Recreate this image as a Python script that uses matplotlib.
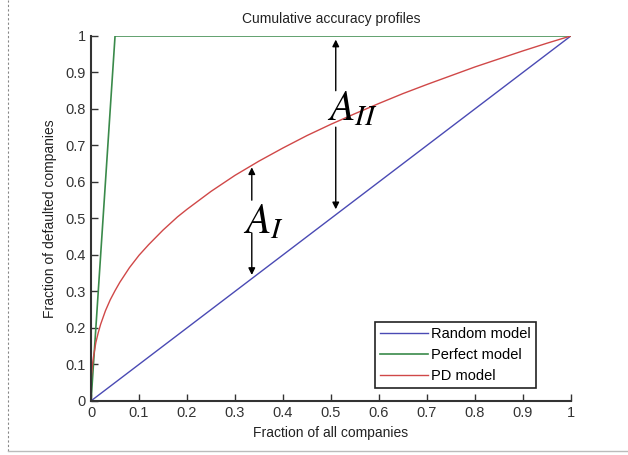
import numpy as np
import matplotlib
matplotlib.use("Agg")
import matplotlib.pyplot as plt
from matplotlib.lines import Line2D

plt.rcParams['font.family'] = ['Liberation Sans', 'DejaVu Sans']
plt.rcParams['mathtext.fontset'] = 'stix'

# Data
random_x = [0, 1]
random_y = [0, 1]

perfect_x = [0, 0.05, 1]
perfect_y = [0, 1, 1]

pd_x = [0, 0.001, 0.003, 0.005, 0.01, 0.015, 0.02, 0.03, 0.04, 0.05, 0.06,
        0.08, 0.1, 0.12, 0.15, 0.18, 0.2, 0.25, 0.3, 0.35, 0.4, 0.45, 0.5,
        0.55, 0.6, 0.65, 0.7, 0.75, 0.8, 0.85, 0.9, 0.95, 1.0]
pd_y = [0.05, 0.07, 0.10, 0.12, 0.16, 0.187, 0.21, 0.247, 0.277, 0.302, 0.325,
        0.365, 0.399, 0.428, 0.468, 0.504, 0.525, 0.574, 0.618, 0.657, 0.693,
        0.727, 0.758, 0.787, 0.815, 0.842, 0.867, 0.891, 0.915, 0.937, 0.959,
        0.98, 1.0]

ticks = [0, 0.1, 0.2, 0.3, 0.4, 0.5, 0.6, 0.7, 0.8, 0.9, 1]
tick_labels = ['0', '0.1', '0.2', '0.3', '0.4', '0.5', '0.6', '0.7', '0.8', '0.9', '1']

# Area annotations: (x, label y, up arrow from/to, down arrow from/to)
a1 = dict(x=0.335, label_y=0.49, up=(0.55, 0.64), down=(0.46, 0.345))
a2 = dict(x=0.51, label_y=0.80, up=(0.85, 0.99), down=(0.75, 0.525))

fig = plt.figure(figsize=(6.28, 4.55), dpi=100)
ax = fig.add_axes([0.145, 0.119, 0.764, 0.802])

ax.plot(random_x, random_y, color='#4a4ab4', lw=1, label='Random model')
ax.plot(perfect_x, perfect_y, color='#3a8a4a', lw=1.2, label='Perfect model')
ax.plot(pd_x, pd_y, color='#d04848', lw=1, label='PD model')

for a in (a1, a2):
    ax.annotate('', xy=(a['x'], a['up'][1]), xytext=(a['x'], a['up'][0]),
                arrowprops=dict(arrowstyle='-|>', color='black', lw=1,
                                mutation_scale=10, shrinkA=0, shrinkB=0))
    ax.annotate('', xy=(a['x'], a['down'][1]), xytext=(a['x'], a['down'][0]),
                arrowprops=dict(arrowstyle='-|>', color='black', lw=1,
                                mutation_scale=10, shrinkA=0, shrinkB=0))

ax.text(a1['x'] + 0.025, a1['label_y'], r'$A_I$', fontsize=30,
        ha='center', va='center')
ax.text(a2['x'] + 0.035, a2['label_y'], r'$A_{II}$', fontsize=30,
        ha='center', va='center')

ax.set_xlim(0, 1)
ax.set_ylim(0, 1)
ax.set_xticks(ticks)
ax.set_xticklabels(tick_labels)
ax.set_yticks(ticks)
ax.set_yticklabels(tick_labels)
ax.tick_params(direction='in', length=5, width=1, labelsize=10.5,
               colors='#333333', pad=4)
ax.spines['top'].set_visible(False)
ax.spines['right'].set_visible(False)
for s in ('left', 'bottom'):
    ax.spines[s].set_linewidth(1.5)
    ax.spines[s].set_color('#333333')

ax.set_xlabel('Fraction of all companies', fontsize=10, color='#222222', labelpad=4)
ax.set_ylabel('Fraction of defaulted companies', fontsize=10, color='#222222', labelpad=6)
ax.set_title('Cumulative accuracy profiles', fontsize=10, color='#222222', pad=9)

leg = ax.legend(loc='lower right', bbox_to_anchor=(0.927, 0.036),
                fancybox=False, framealpha=1, edgecolor='#222222',
                fontsize=10.5, handlelength=3.3, labelspacing=0.45,
                borderpad=0.35, handletextpad=0.2, borderaxespad=0)
leg.get_frame().set_linewidth(1.2)

# page edges visible in the screenshot
fig.add_artist(Line2D([0.013, 0.013], [0.009, 1.0], color='#888888',
                      lw=0.8, ls=(0, (2, 2))))
fig.add_artist(Line2D([0.013, 1.0], [0.009, 0.009], color='#bbbbbb', lw=1))

fig.savefig('out.png', dpi=100)
